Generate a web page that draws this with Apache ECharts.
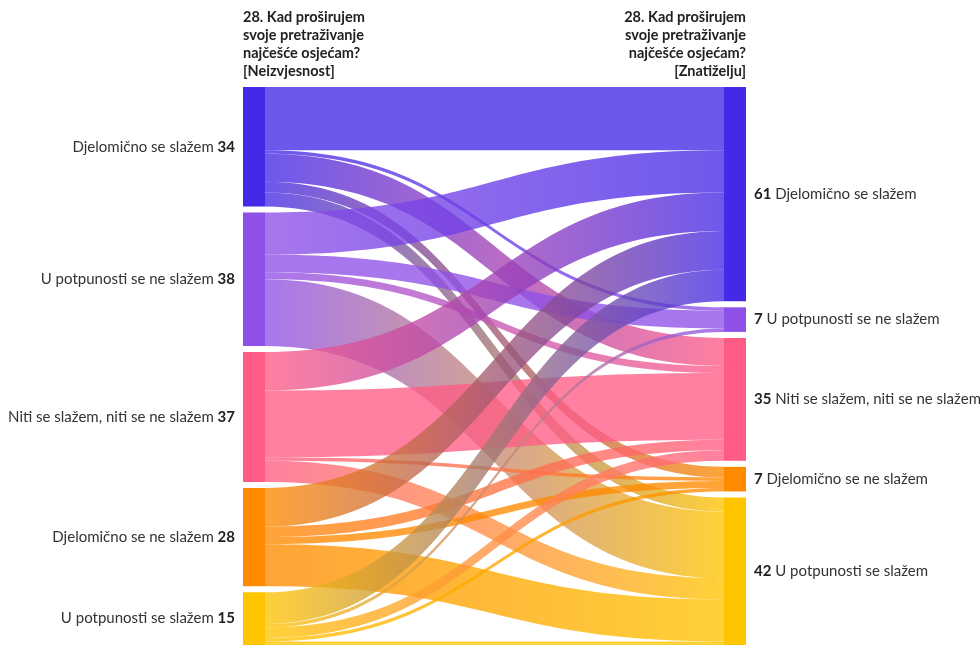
<!DOCTYPE html>
<html lang="hr">
<head>
  <meta charset="UTF-8">
  <title>Sankey - Neizvjesnost / Znatiželju</title>
  <script src="https://cdn.jsdelivr.net/npm/echarts@6/dist/echarts.min.js"></script>
  <style>
    html, body { margin: 0; padding: 0; background: #fff; }
    #chart { width: 980px; height: 646px; }
  </style>
</head>
<body>
  <div id="chart"></div>
  <script>
    // kategorije (isti redoslijed lijevo i desno)
    const categories = [
      'Djelomično se slažem',
      'U potpunosti se ne slažem',
      'Niti se slažem, niti se ne slažem',
      'Djelomično se ne slažem',
      'U potpunosti se slažem'
    ]
    const rightOrder = [
      'Djelomično se slažem',
      'U potpunosti se ne slažem',
      'Niti se slažem, niti se ne slažem',
      'Djelomično se ne slažem',
      'U potpunosti se slažem'
    ]
    const colors = ['#4429e6', '#8f50e8', '#ff5c85', '#ff8a00', '#ffc400']

    // tokovi: redak = lijevi odgovor, stupac = desni odgovor
    const flowsFromDjelomicnoSeSlazem = [18, 1, 8, 3, 4]
    const flowsFromUPotpunostiSeNeSlazem = [12, 5, 2, 0, 19]
    const flowsFromNitiNiti = [11, 0, 19, 1, 6]
    const flowsFromDjelomicnoSeNeSlazem = [11, 0, 3, 2, 12]
    const flowsFromUPotpunostiSeSlazem = [9, 1, 3, 1, 1]
    const flows = [
      flowsFromDjelomicnoSeSlazem,
      flowsFromUPotpunostiSeNeSlazem,
      flowsFromNitiNiti,
      flowsFromDjelomicnoSeNeSlazem,
      flowsFromUPotpunostiSeSlazem
    ]

    const leftTotals = flows.map(r => r.reduce((a, b) => a + b, 0))
    const rightTotals = rightOrder.map((_, j) => flows.reduce((a, r) => a + r[j], 0))

    const nodes = []
    categories.forEach((c, i) => {
      nodes.push({
        name: 'L' + i,
        itemStyle: { color: colors[i] },
        label: {
          position: 'left',
          distance: 8,
          formatter: `{a|${c}} {b|${leftTotals[i]}}`
        }
      })
    })
    rightOrder.forEach((c, j) => {
      nodes.push({
        name: 'R' + j,
        itemStyle: { color: colors[j] },
        label: {
          position: 'right',
          distance: 8,
          formatter: `{b|${rightTotals[j]}} {a|${c}}`
        }
      })
    })

    const links = []
    flows.forEach((row, i) => {
      row.forEach((v, j) => {
        if (v > 0) links.push({ source: 'L' + i, target: 'R' + j, value: v })
      })
    })

    const chart = echarts.init(document.getElementById('chart'))
    const font = 'Lato, "Noto Sans", sans-serif'
    chart.setOption({
      animation: false,
      textStyle: { fontFamily: font },
      graphic: [
        {
          type: 'text', x: 243, y: 8,
          style: {
            text: '28. Kad proširujem\nsvoje pretraživanje\nnajčešće osjećam?\n[Neizvjesnost]',
            font: 'bold 14.5px ' + font, fill: '#222', lineHeight: 18,
            align: 'left', verticalAlign: 'top'
          }
        },
        {
          type: 'text', x: 746, y: 8,
          style: {
            text: '28. Kad proširujem\nsvoje pretraživanje\nnajčešće osjećam?\n[Znatiželju]',
            font: 'bold 14.5px ' + font, fill: '#222', lineHeight: 18,
            align: 'right', verticalAlign: 'top'
          }
        }
      ],
      series: [{
        type: 'sankey',
        left: 243,
        right: 234,
        top: 87,
        bottom: 1,
        nodeWidth: 22,
        nodeGap: 6,
        layoutIterations: 0,
        draggable: false,
        emphasis: { disabled: true },
        data: nodes,
        links: links,
        lineStyle: { color: 'gradient', opacity: 0.78, curveness: 0.5 },
        label: {
          color: '#333',
          fontSize: 15,
          fontFamily: font,
          rich: {
            a: { fontSize: 15, color: '#333', fontFamily: font },
            b: { fontSize: 15, color: '#222', fontWeight: 'bold', fontFamily: font }
          }
        }
      }]
    })
  </script>
</body>
</html>
